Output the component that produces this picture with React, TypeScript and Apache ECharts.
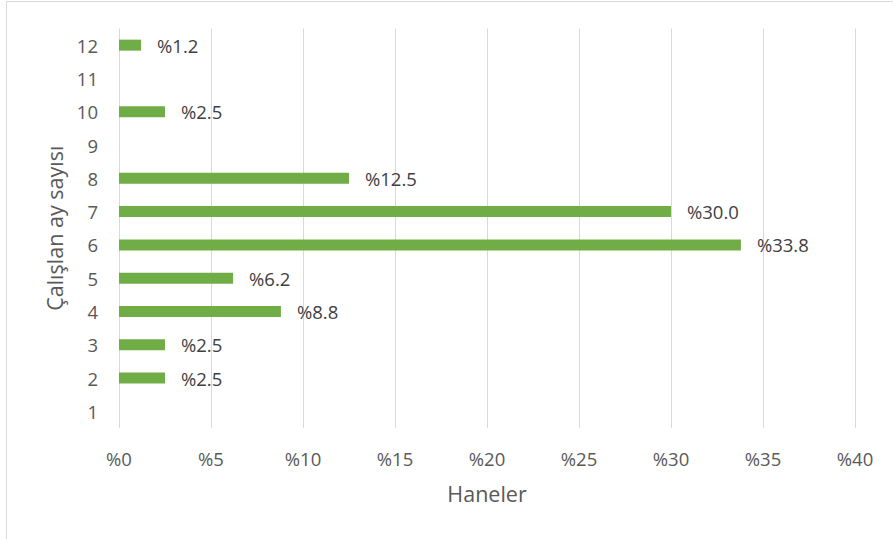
import React, { useEffect, useRef } from "react";
import * as echarts from "echarts";

const categories = ["1", "2", "3", "4", "5", "6", "7", "8", "9", "10", "11", "12"];
const shares: (number | null)[] = [null, 2.5, 2.5, 8.8, 6.2, 33.8, 30.0, 12.5, null, 2.5, null, 1.2];
const xTicks = [0, 5, 10, 15, 20, 25, 30, 35, 40];
const xName = "Haneler";
const yName = "Çalışlan ay sayısı";

export default function App() {
  const ref = useRef<HTMLDivElement>(null);
  useEffect(() => {
    if (!ref.current) return;
    const chart = echarts.init(ref.current, undefined, { renderer: "svg" });
    const font = "'Open Sans', Calibri, sans-serif";
    chart.setOption({
      animation: false,
      textStyle: { fontFamily: font },
      graphic: [
        {
          type: "rect",
          shape: { x: 6.5, y: 1.5, width: 900, height: 560 },
          style: { fill: "none", stroke: "#d9d9d9", lineWidth: 1 },
          silent: true,
        },
      ],
      grid: { left: 119, right: 38, top: 28.5, bottom: 111, containLabel: false },
      xAxis: {
        type: "value",
        min: xTicks[0],
        max: xTicks[xTicks.length - 1],
        interval: 5,
        name: xName,
        nameLocation: "middle",
        nameGap: 54,
        nameTextStyle: { fontSize: 21.5, color: "#595959", fontFamily: font },
        axisLine: { show: false },
        axisTick: { show: false },
        axisLabel: {
          margin: 21,
          fontSize: 18.5,
          color: "#595959",
          fontFamily: font,
          formatter: (v: number) => "%" + v,
        },
        splitLine: { show: true, lineStyle: { color: "#d9d9d9", width: 1 } },
      },
      yAxis: {
        type: "category",
        data: categories,
        name: yName,
        nameLocation: "middle",
        nameRotate: 90,
        nameGap: 51,
        nameTextStyle: { fontSize: 21.5, color: "#595959", fontFamily: font },
        axisLine: { show: false },
        axisTick: { show: false },
        axisLabel: { margin: 21, fontSize: 18.5, color: "#595959", fontFamily: font },
        splitLine: { show: false },
      },
      series: [
        {
          type: "bar",
          data: shares.map((v) => (v === null ? "-" : v)),
          barWidth: 11,
          itemStyle: { color: "#70ad47" },
          label: {
            show: true,
            position: "right",
            distance: 16,
            fontSize: 18.5,
            color: "#404040",
            fontFamily: font,
            formatter: (p: any) => "%" + Number(p.value).toFixed(1),
          },
        },
      ],
    });
    return () => chart.dispose();
  }, []);
  return (
    <div
      ref={ref}
      style={{ position: "absolute", left: 0, top: 0, width: 893, height: 539, background: "#fff" }}
    />
  );
}
